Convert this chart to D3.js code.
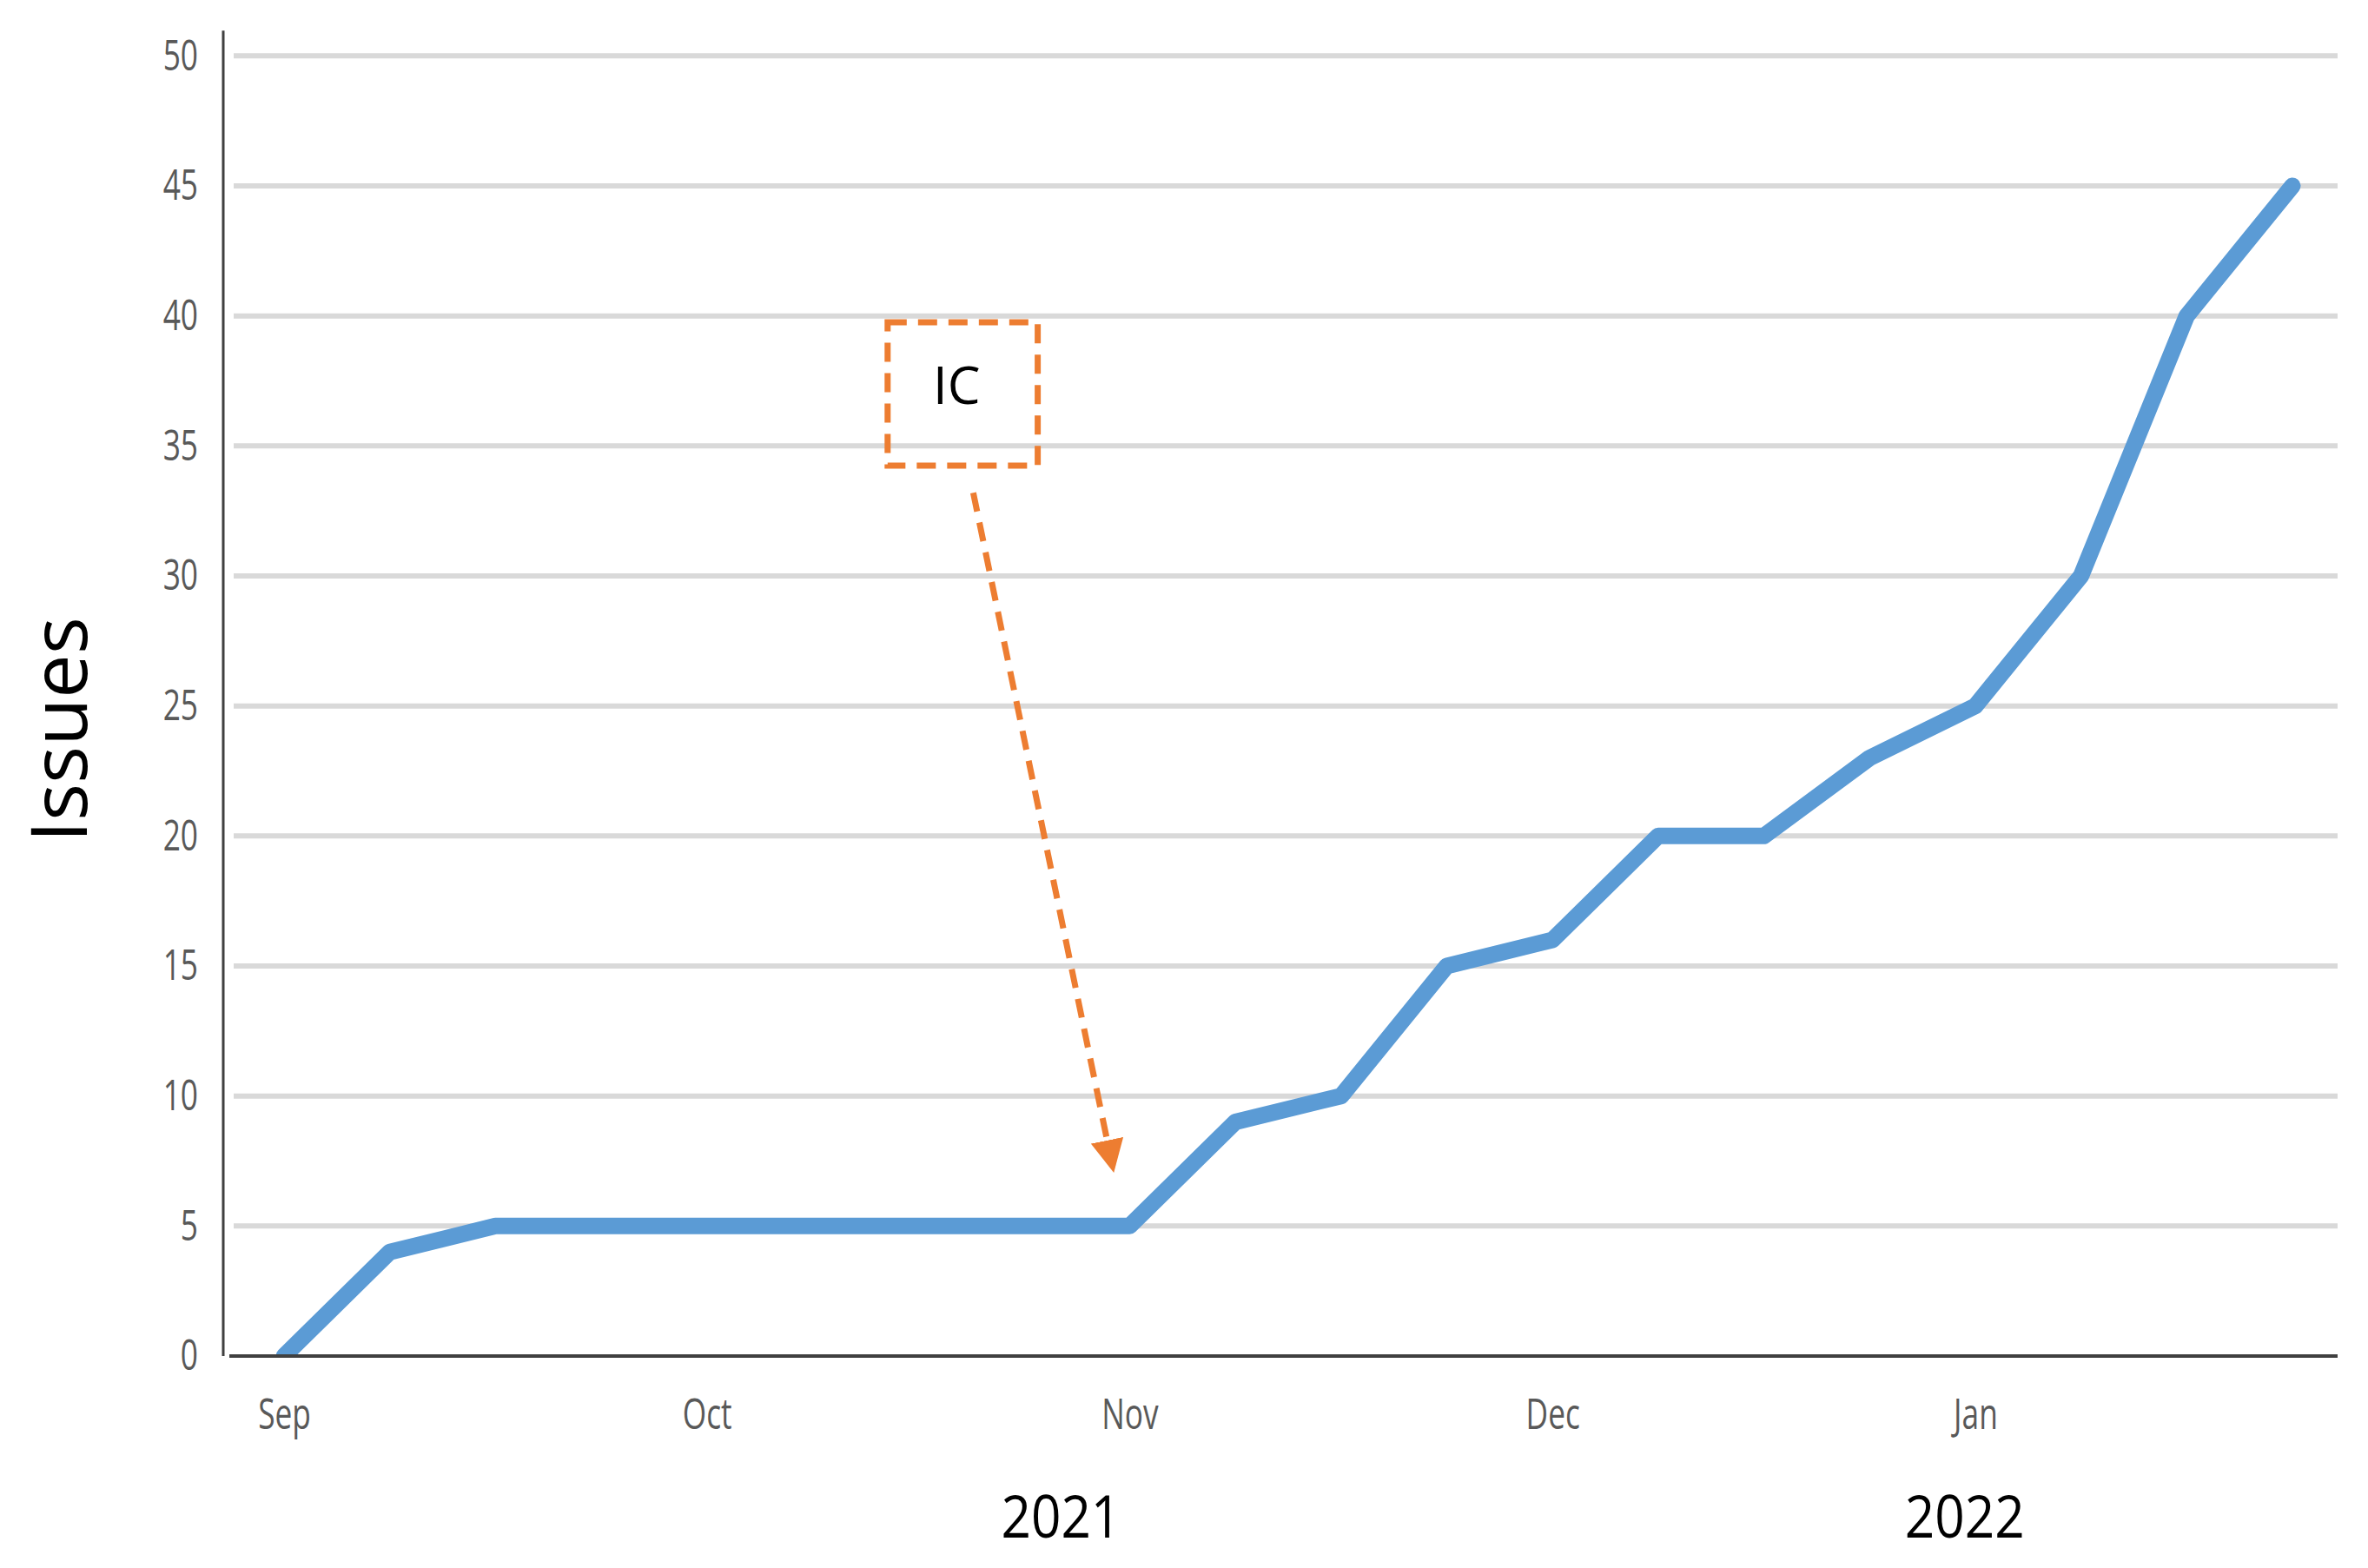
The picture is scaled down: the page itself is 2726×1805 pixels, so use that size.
<!DOCTYPE html>
<html><head><meta charset="utf-8">
<script src="https://cdn.jsdelivr.net/npm/d3@7"></script>
<style>body{margin:0;background:#fff}svg{display:block}</style>
</head><body>
<svg id="chart" width="2726" height="1805"></svg>
<script>
// ---- data ----
const weekIndex = d3.range(20);
const issues = [0,4,5,5,5,5,5,5,5,9,10,15,16,20,20,23,25,30,40,45];
const monthLabels = ["Sep","Oct","Nov","Dec","Jan"];
const monthTickIndex = [0,4,8,12,16];
const yTicks = [0,5,10,15,20,25,30,35,40,45,50];
const yearLabels = ["2021","2022"];
const yearAnchorIndex = [7.35,15.9];
const yTitle = "Issues";
const annotationText = "IC";
const annotationBoxX = [5.71,7.13];   // week index
const annotationBoxY = [39.75,34.24]; // issues
const arrowFrom = [6.52,33.2];
const arrowTo = [7.85,7.05];

// ---- layout ----
const W = 2726, H = 1805;
const svg = d3.select("#chart");
svg.append("rect").attr("width",W).attr("height",H).attr("fill","#fff");

const x = d3.scaleLinear().domain([0,19]).range([327,2639]);
const y = d3.scaleLinear().domain([0,50]).range([1561,64.3]);
const axisX = 257, gridX0 = 269, gridX1 = 2691;
const squeeze = 0.72;

// gridlines
svg.append("g").selectAll("line").data(yTicks.filter(d=>d>0)).join("line")
  .attr("x1",gridX0).attr("x2",gridX1)
  .attr("y1",d=>y(d)).attr("y2",d=>y(d))
  .attr("stroke","#d9d9d9").attr("stroke-width",6);

// y axis
const yAxis = svg.append("g").attr("transform",`translate(${axisX},0)`)
  .call(d3.axisLeft(y).tickValues(yTicks).tickSize(0).tickPadding(0));
yAxis.select(".domain").remove();
yAxis.selectAll(".tick text")
  .attr("x",-29/squeeze).attr("dy",null).attr("y",-3)
  .attr("dominant-baseline","central")
  .attr("transform",`scale(${squeeze},1)`)
  .attr("font-family","'Open Sans', sans-serif").attr("font-size",49)
  .attr("fill","#595959");
svg.append("line").attr("x1",axisX).attr("x2",axisX)
  .attr("y1",y(0)).attr("y2",y(50)-29)
  .attr("stroke","#404040").attr("stroke-width",3);

// data line
svg.append("clipPath").attr("id","plotclip").append("rect")
  .attr("x",0).attr("y",0).attr("width",W).attr("height",y(0));
svg.append("path").datum(weekIndex)
  .attr("clip-path","url(#plotclip)")
  .attr("d",d3.line().x(i=>x(i)).y(i=>y(issues[i])))
  .attr("fill","none").attr("stroke","#5B9BD5").attr("stroke-width",19)
  .attr("stroke-linejoin","round").attr("stroke-linecap","round");

// x axis
const xAxis = svg.append("g").attr("transform",`translate(0,${y(0)})`)
  .call(d3.axisBottom(x).tickValues(monthTickIndex)
    .tickFormat((d,i)=>monthLabels[i]).tickSize(0).tickPadding(0));
xAxis.select(".domain").remove();
xAxis.selectAll(".tick text")
  .attr("y",84).attr("dy",null)
  .attr("transform",`scale(${squeeze},1)`)
  .attr("font-family","'Open Sans', sans-serif").attr("font-size",49)
  .attr("fill","#595959");
svg.append("line").attr("x1",264).attr("x2",gridX1)
  .attr("y1",y(0)).attr("y2",y(0))
  .attr("stroke","#404040").attr("stroke-width",4);

// year labels
svg.append("g").selectAll("text").data(yearLabels).join("text")
  .attr("transform",(d,i)=>`translate(${x(yearAnchorIndex[i])},1770) scale(0.9,1)`)
  .attr("text-anchor","middle")
  .attr("font-family","'Open Sans', sans-serif").attr("font-size",67)
  .attr("fill","#000").text(d=>d);

// y title
svg.append("text")
  .attr("transform","translate(100,840) rotate(-90)")
  .attr("text-anchor","middle")
  .attr("font-family","'Open Sans', sans-serif").attr("font-size",90)
  .attr("fill","#000").text(yTitle);

// annotation
const orange = "#ED7D31";
svg.append("rect")
  .attr("x",x(annotationBoxX[0])).attr("y",y(annotationBoxY[0]))
  .attr("width",x(annotationBoxX[1])-x(annotationBoxX[0]))
  .attr("height",y(annotationBoxY[1])-y(annotationBoxY[0]))
  .attr("fill","none").attr("stroke",orange).attr("stroke-width",7)
  .attr("stroke-dasharray","22,13");
svg.append("text")
  .attr("x",(x(annotationBoxX[0])+x(annotationBoxX[1]))/2-7)
  .attr("y",465).attr("text-anchor","middle")
  .attr("font-family","'Open Sans', sans-serif").attr("font-size",60)
  .attr("fill","#000").text(annotationText);

const defs = svg.append("defs");
defs.append("marker").attr("id","arrowhead")
  .attr("viewBox","0 0 10 10").attr("refX",10).attr("refY",5)
  .attr("markerWidth",38).attr("markerHeight",38)
  .attr("markerUnits","userSpaceOnUse").attr("orient","auto")
  .append("path").attr("d","M0,0 L10,5 L0,10 z").attr("fill",orange);
svg.append("line")
  .attr("x1",x(arrowFrom[0])).attr("y1",y(arrowFrom[1]))
  .attr("x2",x(arrowTo[0])).attr("y2",y(arrowTo[1]))
  .attr("stroke",orange).attr("stroke-width",7)
  .attr("stroke-dasharray","22,13")
  .attr("marker-end","url(#arrowhead)");
</script>
</body></html>
